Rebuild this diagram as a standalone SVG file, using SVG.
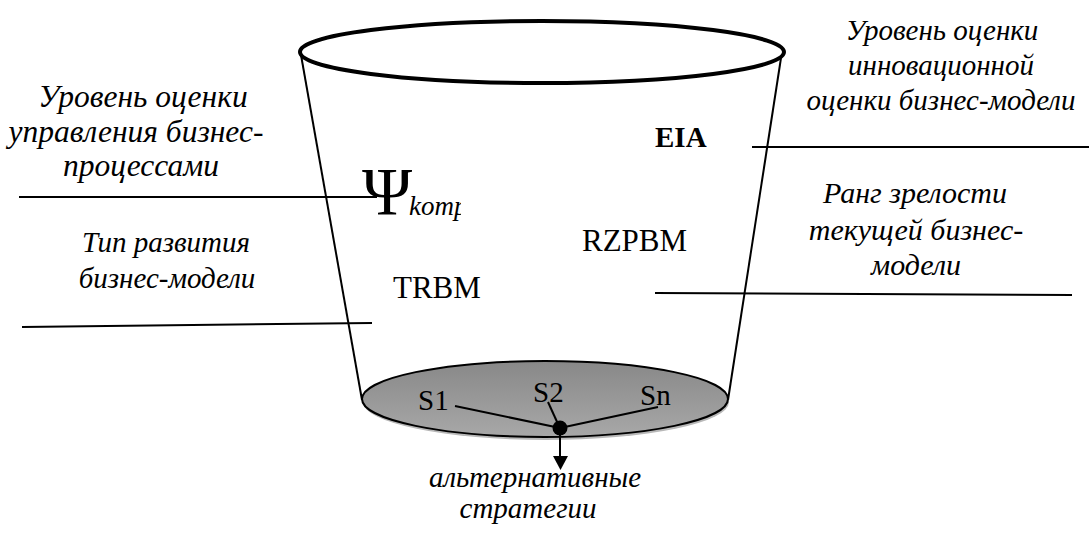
<svg xmlns="http://www.w3.org/2000/svg" width="1089" height="534" viewBox="0 0 1089 534">
  <style>
    .lbl { font-family: "Liberation Serif", "DejaVu Serif", serif; font-style: italic; font-size: 29px; fill: #000; text-anchor: middle; }
    .big { font-size: 31.5px; }
    .mid { font-size: 30px; }
    .abbr { font-family: "Liberation Serif", "DejaVu Serif", serif; font-size: 31px; fill: #000; }
    .s { font-family: "Liberation Serif", "DejaVu Serif", serif; font-size: 29px; fill: #000; }
    .ln { stroke: #000; stroke-width: 2; fill: none; }
    .side { stroke: #000; stroke-width: 2; fill: none; }
  </style>
  <defs>
    <linearGradient id="bottomFill" x1="0" y1="0" x2="0" y2="1">
      <stop offset="0" stop-color="#888888"/>
      <stop offset="1" stop-color="#a8a8a8"/>
    </linearGradient>
    <clipPath id="kompClip">
      <rect x="300" y="140" width="161" height="90"/>
    </clipPath>
  </defs>
  <rect width="1089" height="534" fill="#fff"/>

  <g id="bucket">
    <line class="side" x1="301" y1="55" x2="362" y2="400"/>
    <line class="side" x1="781" y1="58" x2="728" y2="400"/>
    <ellipse cx="542" cy="52" rx="242" ry="31" fill="#fff" stroke="#000" stroke-width="4"/>
    <ellipse cx="546" cy="402" rx="183" ry="38" fill="#b8b8b8" stroke="none"/>
    <ellipse cx="545" cy="399" rx="183" ry="38" fill="url(#bottomFill)" stroke="#000" stroke-width="2"/>
  </g>

  <g id="connectors">
    <line class="ln" x1="19" y1="197" x2="377" y2="197"/>
    <line class="ln" x1="22" y1="327" x2="372" y2="323"/>
    <line class="ln" x1="752" y1="147" x2="1089" y2="147"/>
    <line class="ln" x1="655" y1="293" x2="1072" y2="295"/>
    <line class="ln" x1="455" y1="406" x2="560" y2="428"/>
    <line class="ln" x1="548" y1="402" x2="558" y2="424"/>
    <line class="ln" x1="658" y1="407" x2="560" y2="428"/>
    <line class="ln" x1="560" y1="428" x2="560" y2="458"/>
    <polygon points="553,456 568,456 560.5,470" fill="#000"/>
    <circle cx="560" cy="428" r="7.5" fill="#000"/>
  </g>

  <g id="label-upravlenie">
    <text class="lbl big" x="143" y="107">Уровень оценки</text>
    <text class="lbl big" x="136" y="142">управления бизнес-</text>
    <text class="lbl big" x="141" y="176">процессами</text>
  </g>
  <g id="label-tip">
    <text class="lbl" x="166" y="252">Тип развития</text>
    <text class="lbl" x="167" y="288">бизнес-модели</text>
  </g>
  <g id="label-innov">
    <text class="lbl" x="942" y="40">Уровень оценки</text>
    <text class="lbl" x="941" y="75">инновационной</text>
    <text class="lbl" x="941" y="110">оценки бизнес-модели</text>
  </g>
  <g id="label-rang">
    <text class="lbl mid" x="915" y="203">Ранг зрелости</text>
    <text class="lbl mid" x="916" y="240">текущей бизнес-</text>
    <text class="lbl mid" x="916" y="275">модели</text>
  </g>
  <g id="label-alt">
    <text class="lbl" x="535" y="487">альтернативные</text>
    <text class="lbl" x="528" y="518">стратегии</text>
  </g>

  <g id="node-psi" clip-path="url(#kompClip)">
    <text x="362" y="214" style="font-family: 'Liberation Serif', serif; font-size: 68px;">Ψ</text>
    <text x="409" y="215" style="font-family: 'Liberation Serif', serif; font-style: italic; font-size: 27px;">komp</text>
  </g>
  <g id="node-eia">
    <text x="655" y="147" style="font-family: 'Liberation Serif', serif; font-weight: bold; font-size: 29px;">EIA</text>
  </g>
  <g id="node-rzpbm">
    <text class="abbr" x="582" y="251">RZPBM</text>
  </g>
  <g id="node-trbm">
    <text class="abbr" x="393" y="298">TRBM</text>
  </g>
  <g id="node-s">
    <text class="s" x="418" y="410">S1</text>
    <text class="s" x="533" y="402">S2</text>
    <text class="s" x="640" y="405">Sn</text>
  </g>
</svg>
